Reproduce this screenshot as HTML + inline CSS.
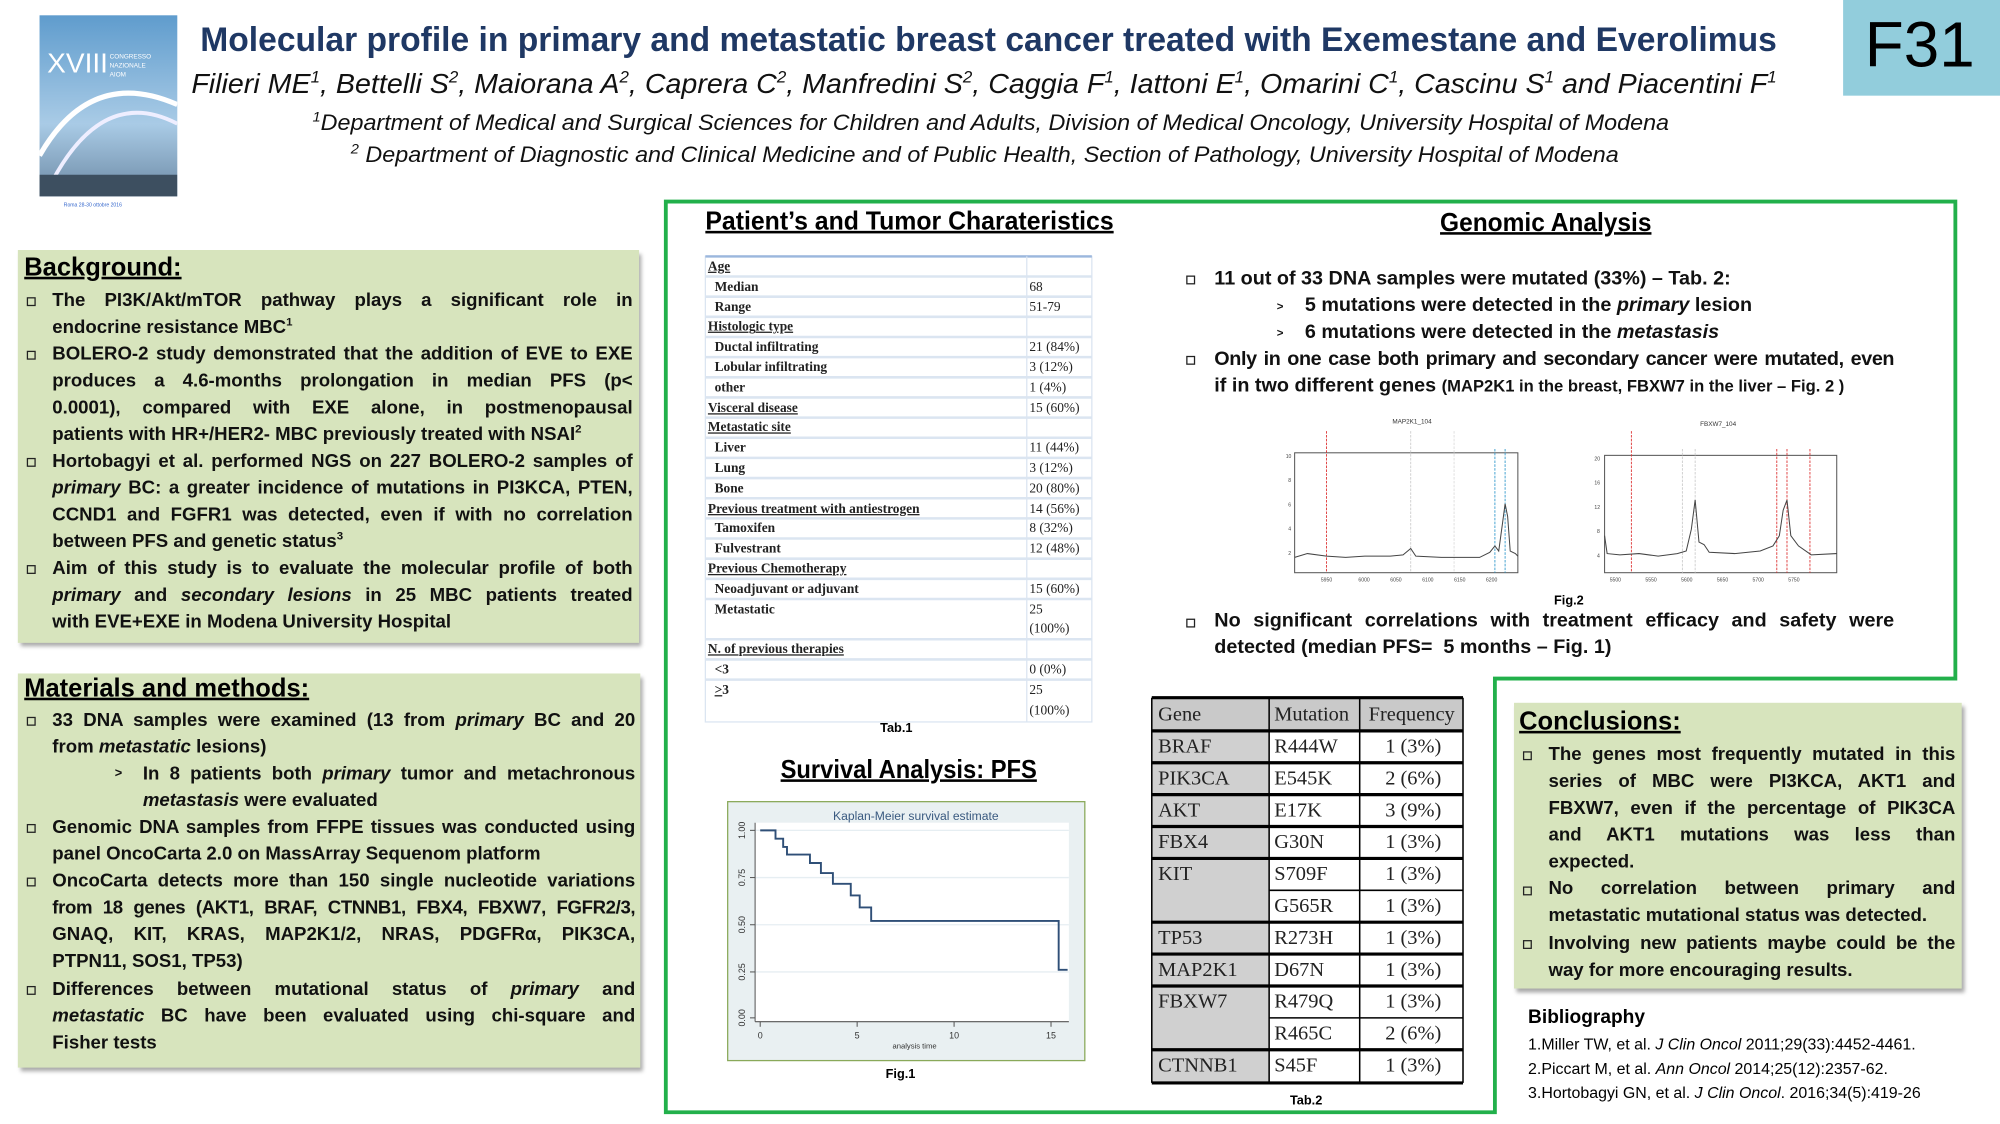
<!DOCTYPE html>
<html><head><meta charset="utf-8">
<style>
html,body{margin:0;padding:0;background:#fff;width:2000px;height:1124px;overflow:hidden}
#w{position:absolute;left:0;top:0;width:1568px;height:881px;transform:scale(1.27551);transform-origin:0 0;font-family:"Liberation Sans",sans-serif}
sup{line-height:0;vertical-align:super}
.a{position:absolute;white-space:nowrap}
.t{position:absolute;white-space:nowrap;font-weight:bold;font-size:14.6px;line-height:20px;color:#111}
.j{text-align:justify;text-align-last:justify}
.b{position:absolute;width:5px;height:5px;border:1px solid #222;font-size:0}
.h{position:absolute;font-weight:bold;text-decoration:underline;color:#000;white-space:nowrap}
.box{position:absolute;background:#d7e4bd;box-shadow:2px 3px 3px #aaa}
.tb{position:absolute;font-family:"Liberation Serif",serif;font-weight:bold;font-size:10.5px;line-height:15.8px;white-space:nowrap;color:#222}
.t2{position:absolute;font-family:"Liberation Serif",serif;font-size:16px;line-height:25px;white-space:nowrap;color:#222}
</style></head><body><div id="w">

<!-- logo -->
<div class="a" style="left:31px;top:12px;width:108px;height:142px;background:linear-gradient(#5f9ccd,#a9cbe6 60%,#6d8aa5)"></div>
<svg class="a" style="left:31px;top:12px" width="108" height="142"><path d="M0 110 Q40 40 108 70" stroke="#fff" stroke-width="4" fill="none"/><path d="M10 130 Q50 55 108 85" stroke="#eef" stroke-width="3" fill="none"/><rect x="0" y="125" width="108" height="17" fill="#3d4f60"/><text x="6" y="45" fill="#fff" font-size="22" font-family="Liberation Sans">XVIII</text><text x="55" y="34" fill="#fff" font-size="5" font-family="Liberation Sans">CONGRESSO</text><text x="55" y="41" fill="#fff" font-size="5" font-family="Liberation Sans">NAZIONALE</text><text x="55" y="48" fill="#fff" font-size="5" font-family="Liberation Sans">AIOM</text></svg>
<div class="a" style="left:50px;top:158px;font-size:4px;color:#36c">Roma 28-30 ottobre 2016</div>

<div class="a" style="left:1445px;top:0;width:123px;height:75px;background:#92cddc"></div>
<div class="a" style="left:1462px;top:6px;font-size:50px;color:#000">F31</div>

<div class="a" style="left:157px;top:16px;font-size:27px;font-weight:bold;color:#1f3864;transform:scaleX(0.976);transform-origin:0 0">Molecular profile in primary and metastatic breast cancer treated with Exemestane and Everolimus</div>
<div class="a" style="left:150px;top:53px;font-size:22px;font-style:italic;color:#111;transform:scaleX(1.02);transform-origin:0 0">Filieri ME<sup style="font-size:13px">1</sup>, Bettelli S<sup style="font-size:13px">2</sup>, Maiorana A<sup style="font-size:13px">2</sup>, Caprera C<sup style="font-size:13px">2</sup>, Manfredini S<sup style="font-size:13px">2</sup>, Caggia F<sup style="font-size:13px">1</sup>, Iattoni E<sup style="font-size:13px">1</sup>, Omarini C<sup style="font-size:13px">1</sup>, Cascinu S<sup style="font-size:13px">1</sup> and Piacentini F<sup style="font-size:13px">1</sup></div>
<div class="a" style="left:245px;top:86px;font-size:17.5px;font-style:italic;color:#111;transform:scaleX(1.045);transform-origin:0 0"><sup style="font-size:11px">1</sup>Department of Medical and Surgical Sciences for Children and Adults, Division of Medical Oncology, University Hospital of Modena</div>
<div class="a" style="left:275px;top:111px;font-size:17.5px;font-style:italic;color:#111;transform:scaleX(1.045);transform-origin:0 0"><sup style="font-size:11px">2</sup> Department of Diagnostic and Clinical Medicine and of Public Health, Section of Pathology, University Hospital of Modena</div>

<!-- green frame -->
<svg class="a" style="left:0;top:0" width="1568" height="881"><path d="M522 158 H1533 V532 H1172 V872 H522 Z" fill="none" stroke="#22b04b" stroke-width="3"/></svg>

<!-- Background -->
<div class="box" style="left:14px;top:196px;width:487px;height:308px"></div>
<div class="h" style="left:19px;top:199px;font-size:20px">Background:</div>
<div class="b" style="left:21px;top:233px"></div>
<div class="t j" style="left:41px;top:226px;width:455px">The PI3K/Akt/mTOR pathway plays a significant role in</div>
<div class="t" style="left:41px;top:247px">endocrine resistance MBC<sup style="font-size:9px">1</sup></div>
<div class="b" style="left:21px;top:275px"></div>
<div class="t j" style="left:41px;top:268px;width:455px">BOLERO-2 study demonstrated that the addition of EVE to EXE</div>
<div class="t j" style="left:41px;top:289px;width:455px">produces a 4.6-months prolongation in median PFS (p&lt;</div>
<div class="t j" style="left:41px;top:310px;width:455px">0.0001), compared with EXE alone, in postmenopausal</div>
<div class="t" style="left:41px;top:331px">patients with HR+/HER2- MBC previously treated with NSAI<sup style="font-size:9px">2</sup></div>
<div class="b" style="left:21px;top:359px"></div>
<div class="t j" style="left:41px;top:352px;width:455px">Hortobagyi et al. performed NGS on 227 BOLERO-2 samples of</div>
<div class="t j" style="left:41px;top:373px;width:455px"><i>primary</i> BC: a greater incidence of mutations in PI3KCA, PTEN,</div>
<div class="t j" style="left:41px;top:394px;width:455px">CCND1 and FGFR1 was detected, even if with no correlation</div>
<div class="t" style="left:41px;top:415px">between PFS and genetic status<sup style="font-size:9px">3</sup></div>
<div class="b" style="left:21px;top:443px"></div>
<div class="t j" style="left:41px;top:436px;width:455px">Aim of this study is to evaluate the molecular profile of both</div>
<div class="t j" style="left:41px;top:457px;width:455px"><i>primary</i> and <i>secondary lesions</i> in 25 MBC patients treated</div>
<div class="t" style="left:41px;top:478px">with EVE+EXE in Modena University Hospital</div>

<!-- Materials -->
<div class="box" style="left:14px;top:528px;width:488px;height:309px"></div>
<div class="h" style="left:19px;top:529px;font-size:20px">Materials and methods:</div>
<div class="b" style="left:21px;top:562px"></div>
<div class="t j" style="left:41px;top:555px;width:457px">33 DNA samples were examined (13 from <i>primary</i> BC and 20</div>
<div class="t" style="left:41px;top:576px">from <i>metastatic</i> lesions)</div>
<div class="t" style="left:90px;top:597px;font-size:10px">&gt;</div>
<div class="t j" style="left:112px;top:597px;width:386px">In 8 patients both <i>primary</i> tumor and metachronous</div>
<div class="t" style="left:112px;top:618px"><i>metastasis</i> were evaluated</div>
<div class="b" style="left:21px;top:646px"></div>
<div class="t j" style="left:41px;top:639px;width:457px">Genomic DNA samples from FFPE tissues was conducted using</div>
<div class="t" style="left:41px;top:660px">panel OncoCarta 2.0 on MassArray Sequenom platform</div>
<div class="b" style="left:21px;top:688px"></div>
<div class="t j" style="left:41px;top:681px;width:457px">OncoCarta detects more than 150 single nucleotide variations</div>
<div class="t j" style="left:41px;top:702px;width:457px;letter-spacing:-0.3px">from 18 genes (AKT1, BRAF, CTNNB1, FBX4, FBXW7, FGFR2/3,</div>
<div class="t j" style="left:41px;top:723px;width:457px">GNAQ, KIT, KRAS, MAP2K1/2, NRAS, PDGFRα, PIK3CA,</div>
<div class="t" style="left:41px;top:744px">PTPN11, SOS1, TP53)</div>
<div class="b" style="left:21px;top:773px"></div>
<div class="t j" style="left:41px;top:766px;width:457px">Differences between mutational status of <i>primary</i> and</div>
<div class="t j" style="left:41px;top:787px;width:457px"><i>metastatic</i> BC have been evaluated using chi-square and</div>
<div class="t" style="left:41px;top:808px">Fisher tests</div>

<!-- Patient heading & Tab1 -->
<div class="h" style="left:553px;top:163px;font-size:20px;transform:scaleX(0.973);transform-origin:0 0">Patient’s and Tumor Charateristics</div>
<svg class="a" style="left:552px;top:200px" width="305" height="368">
<rect x="1" y="1" width="303" height="365" fill="#fff" stroke="#dbe5f1"/>
<line x1="1" y1="1" x2="304" y2="1" stroke="#9bb7dd" stroke-width="2"/>
<line x1="253" y1="1" x2="253" y2="366" stroke="#dbe5f1"/>
<g stroke="#dbe5f1" stroke-width="2">
<line x1="1" y1="16.8" x2="304" y2="16.8"/><line x1="1" y1="32.6" x2="304" y2="32.6"/><line x1="1" y1="48.4" x2="304" y2="48.4"/><line x1="1" y1="64.2" x2="304" y2="64.2"/><line x1="1" y1="80" x2="304" y2="80"/><line x1="1" y1="95.8" x2="304" y2="95.8"/><line x1="1" y1="111.6" x2="304" y2="111.6"/><line x1="1" y1="127.4" x2="304" y2="127.4"/><line x1="1" y1="143.2" x2="304" y2="143.2"/><line x1="1" y1="159" x2="304" y2="159"/><line x1="1" y1="174.8" x2="304" y2="174.8"/><line x1="1" y1="190.6" x2="304" y2="190.6"/><line x1="1" y1="206.4" x2="304" y2="206.4"/><line x1="1" y1="222.2" x2="304" y2="222.2"/><line x1="1" y1="238" x2="304" y2="238"/><line x1="1" y1="253.8" x2="304" y2="253.8"/><line x1="1" y1="269.6" x2="304" y2="269.6"/><line x1="1" y1="301.2" x2="304" y2="301.2"/><line x1="1" y1="317" x2="304" y2="317"/><line x1="1" y1="332.8" x2="304" y2="332.8"/>
</g></svg>
<div class="tb" style="left:555px;top:202px"><u>Age</u><br>&nbsp;&nbsp;Median<br>&nbsp;&nbsp;Range<br><u>Histologic type</u><br>&nbsp;&nbsp;Ductal infiltrating<br>&nbsp;&nbsp;Lobular infiltrating<br>&nbsp;&nbsp;other<br><u>Visceral disease</u><br><u>Metastatic site</u><br>&nbsp;&nbsp;Liver<br>&nbsp;&nbsp;Lung<br>&nbsp;&nbsp;Bone<br><u>Previous treatment with antiestrogen</u><br>&nbsp;&nbsp;Tamoxifen<br>&nbsp;&nbsp;Fulvestrant<br><u>Previous Chemotherapy</u><br>&nbsp;&nbsp;Neoadjuvant or adjuvant<br>&nbsp;&nbsp;Metastatic<br><br><u>N. of previous therapies</u><br>&nbsp;&nbsp;&lt;3<br>&nbsp;&nbsp;<u>&gt;</u>3</div>
<div class="tb" style="left:807px;top:202px;font-weight:normal"><br>68<br>51-79<br><br>21 (84%)<br>3 (12%)<br>1 (4%)<br>15 (60%)<br><br>11 (44%)<br>3 (12%)<br>20 (80%)<br>14 (56%)<br>8 (32%)<br>12 (48%)<br><br>15 (60%)<br>25<br>(100%)<br><br>0 (0%)<br>25<br>(100%)</div>
<div class="a" style="left:690px;top:566px;font-size:10px;font-weight:bold">Tab.1</div>

<!-- Survival -->
<div class="h" style="left:612px;top:593px;font-size:20px;transform:scaleX(0.93);transform-origin:0 0">Survival Analysis: PFS</div>
<svg class="a" style="left:0;top:0" width="1568" height="881">
<rect x="570.5" y="628.5" width="280" height="203" fill="#e9f0f2" stroke="#8aa95a"/>
<rect x="592" y="645" width="246" height="156" fill="#fff"/>
<g stroke="#e6eef2"><line x1="592" y1="651" x2="838" y2="651"/><line x1="592" y1="688" x2="838" y2="688"/><line x1="592" y1="725" x2="838" y2="725"/><line x1="592" y1="762" x2="838" y2="762"/></g>
<g stroke="#555" stroke-width="0.8"><line x1="592" y1="645" x2="592" y2="801"/><line x1="592" y1="801" x2="838" y2="801"/>
<line x1="588" y1="651" x2="592" y2="651"/><line x1="588" y1="688" x2="592" y2="688"/><line x1="588" y1="725" x2="592" y2="725"/><line x1="588" y1="762" x2="592" y2="762"/><line x1="588" y1="798" x2="592" y2="798"/>
<line x1="596" y1="801" x2="596" y2="805"/><line x1="672" y1="801" x2="672" y2="805"/><line x1="748" y1="801" x2="748" y2="805"/><line x1="824" y1="801" x2="824" y2="805"/></g>
<polyline fill="none" stroke="#2f4f77" stroke-width="1.5" points="596,651 608,651 608,657.5 614,657.5 614,664 617,664 617,670 635,670 635,676.6 643.6,676.6 643.6,684.5 653,684.5 653,692.9 667,692.9 667,702 674,702 674,711.4 683,711.4 683,722 830,722 830,760.3 837,760.3"/>
<text x="718" y="643" font-size="9.5" fill="#3a5a80" text-anchor="middle" font-family="Liberation Sans">Kaplan-Meier survival estimate</text>
<g font-size="7" fill="#333" font-family="Liberation Sans" text-anchor="middle">
<text transform="translate(584,651) rotate(-90)">1.00</text><text transform="translate(584,688) rotate(-90)">0.75</text><text transform="translate(584,725) rotate(-90)">0.50</text><text transform="translate(584,762) rotate(-90)">0.25</text><text transform="translate(584,798) rotate(-90)">0.00</text>
<text x="596" y="814">0</text><text x="672" y="814">5</text><text x="748" y="814">10</text><text x="824" y="814">15</text>
<text x="717" y="822" font-size="6">analysis time</text></g>
<text x="706" y="845" font-size="10" font-weight="bold" text-anchor="middle" font-family="Liberation Sans">Fig.1</text>

<!-- Fig 2 -->
<g font-family="Liberation Sans" fill="#333" font-size="5">
<text x="1107" y="332" text-anchor="middle">MAP2K1_104</text>
<text x="1347" y="334" text-anchor="middle">FBXW7_104</text></g>
<rect x="1015" y="355" width="175" height="94" fill="#fff" stroke="#555" stroke-width="0.8"/>
<rect x="1258" y="357" width="182" height="92" fill="#fff" stroke="#555" stroke-width="0.8"/>
<g stroke-dasharray="2,1" stroke-width="0.7">
<line x1="1040" y1="338" x2="1040" y2="449" stroke="#d33"/>
<line x1="1106" y1="338" x2="1106" y2="449" stroke="#ccc"/>
<line x1="1140" y1="338" x2="1140" y2="449" stroke="#ddd"/>
<line x1="1172" y1="352" x2="1172" y2="449" stroke="#39c"/>
<line x1="1180" y1="352" x2="1180" y2="449" stroke="#39c"/>
<line x1="1279" y1="338" x2="1279" y2="449" stroke="#d33"/>
<line x1="1319" y1="352" x2="1319" y2="449" stroke="#ccc"/>
<line x1="1329" y1="352" x2="1329" y2="449" stroke="#ccc"/>
<line x1="1393" y1="352" x2="1393" y2="449" stroke="#d33"/>
<line x1="1401" y1="352" x2="1401" y2="449" stroke="#d33"/>
<line x1="1419" y1="352" x2="1419" y2="449" stroke="#d33"/></g>
<polyline fill="none" stroke="#444" stroke-width="0.8" points="1015,437 1025,434 1040,436 1055,437 1070,436 1090,436 1100,435 1106,430 1110,436 1130,437 1160,437 1168,433 1172,428 1175,432 1178,410 1180,395 1182,405 1184,432 1188,434 1190,436"/>
<polyline fill="none" stroke="#444" stroke-width="0.8" points="1258,420 1260,434 1270,435 1285,434 1300,436 1315,434 1322,432 1326,415 1329,392 1332,425 1336,427 1340,433 1360,434 1380,432 1390,428 1395,420 1398,400 1401,392 1404,420 1410,428 1420,435 1440,434"/>
<g font-size="4" fill="#444" font-family="Liberation Sans"><text x="1040" y="456" text-anchor="middle">5950</text><text x="1065" y="456">6000</text><text x="1090" y="456">6050</text><text x="1115" y="456">6100</text><text x="1140" y="456">6150</text><text x="1165" y="456">6200</text>
<text x="1262" y="456">5500</text><text x="1290" y="456">5550</text><text x="1318" y="456">5600</text><text x="1346" y="456">5650</text><text x="1374" y="456">5700</text><text x="1402" y="456">5750</text>
<text x="1008" y="359">10</text><text x="1010" y="378">8</text><text x="1010" y="397">6</text><text x="1010" y="416">4</text><text x="1010" y="435">2</text>
<text x="1250" y="361">20</text><text x="1250" y="380">16</text><text x="1250" y="399">12</text><text x="1252" y="418">8</text><text x="1252" y="437">4</text></g>
<text x="1230" y="474" font-size="10" font-weight="bold" text-anchor="middle" font-family="Liberation Sans">Fig.2</text>

<!-- Tab2 -->
<rect x="903" y="547" width="244" height="26" fill="#c9c9c9"/>
<rect x="903" y="573" width="92" height="275" fill="#d0d0d0"/>
<g stroke="#000" stroke-width="2.5"><line x1="903" y1="547" x2="1147" y2="547"/><line x1="903" y1="573" x2="1147" y2="573"/><line x1="903" y1="598" x2="1147" y2="598"/><line x1="903" y1="623" x2="1147" y2="623"/><line x1="903" y1="648" x2="1147" y2="648"/><line x1="903" y1="673" x2="1147" y2="673"/><line x1="903" y1="723" x2="1147" y2="723"/><line x1="903" y1="748" x2="1147" y2="748"/><line x1="903" y1="773" x2="1147" y2="773"/><line x1="903" y1="823" x2="1147" y2="823"/><line x1="903" y1="849" x2="1147" y2="849"/></g>
<g stroke="#000" stroke-width="1.2"><line x1="995" y1="698" x2="1147" y2="698"/><line x1="995" y1="798" x2="1147" y2="798"/><line x1="903" y1="547" x2="903" y2="849"/><line x1="995" y1="547" x2="995" y2="849"/><line x1="1066" y1="547" x2="1066" y2="849"/><line x1="1147" y1="547" x2="1147" y2="849"/></g>
<text x="1024" y="866" font-size="10" font-weight="bold" text-anchor="middle" font-family="Liberation Sans">Tab.2</text>
</svg>
<div class="t2" style="left:908px;top:548px">Gene<br>BRAF<br>PIK3CA<br>AKT<br>FBX4<br>KIT<br><br>TP53<br>MAP2K1<br>FBXW7<br><br>CTNNB1</div>
<div class="t2" style="left:999px;top:548px">Mutation<br>R444W<br>E545K<br>E17K<br>G30N<br>S709F<br>G565R<br>R273H<br>D67N<br>R479Q<br>R465C<br>S45F</div>
<div class="t2" style="left:1073px;top:548px">Frequency</div>
<div class="t2" style="left:1086px;top:573px">1 (3%)<br>2 (6%)<br>3 (9%)<br>1 (3%)<br>1 (3%)<br>1 (3%)<br>1 (3%)<br>1 (3%)<br>1 (3%)<br>2 (6%)<br>1 (3%)</div>

<!-- Genomic -->
<div class="h" style="left:1129px;top:164px;font-size:20px;transform:scaleX(0.96);transform-origin:0 0">Genomic Analysis</div>
<div class="b" style="left:930px;top:216px"></div>
<div class="t" style="left:952px;top:209px;font-size:15.5px">11 out of 33 DNA samples were mutated (33%) – Tab. 2:</div>
<div class="t" style="left:1001px;top:230px;font-size:9px">&gt;</div>
<div class="t" style="left:1023px;top:230px;font-size:15.5px">5 mutations were detected in the <i>primary</i> lesion</div>
<div class="t" style="left:1001px;top:251px;font-size:9px">&gt;</div>
<div class="t" style="left:1023px;top:251px;font-size:15.5px">6 mutations were detected in the <i>metastasis</i></div>
<div class="b" style="left:930px;top:279px"></div>
<div class="t j" style="left:952px;top:272px;width:533px;font-size:15.5px;letter-spacing:-0.3px">Only in one case both primary and secondary cancer were mutated, even</div>
<div class="t" style="left:952px;top:293px;font-size:15.5px">if in two different genes <span style="font-size:13px">(MAP2K1 in the breast, FBXW7 in the liver – Fig. 2 )</span></div>
<div class="b" style="left:930px;top:485px"></div>
<div class="t j" style="left:952px;top:477px;width:533px;font-size:15.5px">No significant correlations with treatment efficacy and safety were</div>
<div class="t" style="left:952px;top:498px;font-size:15.5px">detected (median PFS=&nbsp; 5 months – Fig. 1)</div>

<!-- Conclusions -->
<div class="box" style="left:1187px;top:551px;width:351px;height:224px"></div>
<div class="h" style="left:1191px;top:555px;font-size:20px">Conclusions:</div>
<div class="b" style="left:1194px;top:589px"></div>
<div class="t j" style="left:1214px;top:582px;width:319px">The genes most frequently mutated in this</div>
<div class="t j" style="left:1214px;top:603px;width:319px">series of MBC were PI3KCA, AKT1 and</div>
<div class="t j" style="left:1214px;top:624px;width:319px">FBXW7, even if the percentage of PIK3CA</div>
<div class="t j" style="left:1214px;top:645px;width:319px">and AKT1 mutations was less than</div>
<div class="t" style="left:1214px;top:666px">expected.</div>
<div class="b" style="left:1194px;top:695px"></div>
<div class="t j" style="left:1214px;top:687px;width:319px">No correlation between primary and</div>
<div class="t" style="left:1214px;top:708px">metastatic mutational status was detected.</div>
<div class="b" style="left:1194px;top:737px"></div>
<div class="t j" style="left:1214px;top:730px;width:319px">Involving new patients maybe could be the</div>
<div class="t" style="left:1214px;top:751px">way for more encouraging results.</div>

<div class="a" style="left:1198px;top:789px;font-size:15px;font-weight:bold">Bibliography</div>
<div class="a" style="left:1198px;top:810px;font-size:12.5px;line-height:19px">1.Miller TW, et al. <i>J Clin Oncol</i> 2011;29(33):4452-4461.<br>2.Piccart M, et al. <i>Ann Oncol</i> 2014;25(12):2357-62.<br>3.Hortobagyi GN, et al. <i>J Clin Oncol</i>. 2016;34(5):419-26</div>

</div></body></html>
